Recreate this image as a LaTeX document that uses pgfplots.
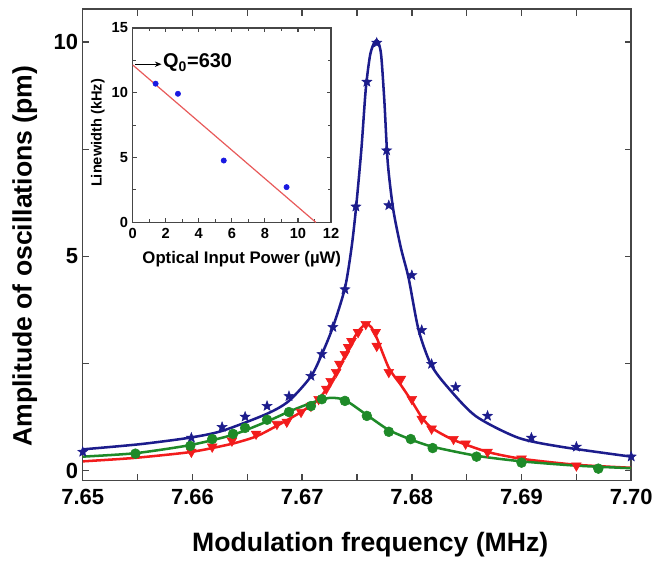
\documentclass[border=0pt]{standalone}
\usepackage{fontspec}
\setmainfont{Liberation Sans}
\usepackage{pgfplots}
\pgfplotsset{compat=1.18}
\usetikzlibrary{arrows.meta}
\definecolor{cblue}{RGB}{28,28,140}
\definecolor{cred}{RGB}{242,28,28}
\definecolor{cgreen}{RGB}{30,138,40}
\definecolor{caxis}{RGB}{70,70,70}
\definecolor{cfit}{RGB}{232,90,90}
\definecolor{cpt}{RGB}{25,25,225}
\pgfdeclareplotmark{fstar}{%
  \pgfpathmoveto{\pgfpointpolar{90}{1.3\pgfplotmarksize}}%
  \pgfpathlineto{\pgfpointpolar{126}{0.55\pgfplotmarksize}}%
  \pgfpathlineto{\pgfpointpolar{162}{1.3\pgfplotmarksize}}%
  \pgfpathlineto{\pgfpointpolar{198}{0.55\pgfplotmarksize}}%
  \pgfpathlineto{\pgfpointpolar{234}{1.3\pgfplotmarksize}}%
  \pgfpathlineto{\pgfpointpolar{270}{0.55\pgfplotmarksize}}%
  \pgfpathlineto{\pgfpointpolar{306}{1.3\pgfplotmarksize}}%
  \pgfpathlineto{\pgfpointpolar{342}{0.55\pgfplotmarksize}}%
  \pgfpathlineto{\pgfpointpolar{18}{1.3\pgfplotmarksize}}%
  \pgfpathlineto{\pgfpointpolar{54}{0.55\pgfplotmarksize}}%
  \pgfpathclose
  \pgfusepathqfillstroke}
\begin{document}
\begin{tikzpicture}
\path (-62.25pt,-58.5pt) rectangle (430.5pt,361.5pt);
\begin{axis}[
  name=main, at={(0,0)}, anchor=south west,
  scale only axis, width=412.5pt, height=354.75pt,
  xmin=7.65, xmax=7.70, ymin=-0.23, ymax=10.77,
  axis line style={caxis, line width=1.1pt},
  every tick/.style={caxis, line width=1pt},
  major tick length=5pt, minor tick length=5pt,
  xtick={7.65,7.66,7.67,7.68,7.69,7.70},
  xticklabels={7.65,7.66,7.67,7.68,7.69,7.70},
  minor xtick={7.655,7.665,7.675,7.685,7.695},
  ytick={0,5,10}, yticklabels={0,5,10},
  minor ytick={2.5,7.5},
  /pgf/number format/assume math mode=true,
  tick label style={font=\bfseries\fontsize{16.5}{16.5}\selectfont},
  xticklabel style={yshift=-3pt},
  xlabel={Modulation frequency (MHz)},
  ylabel={Amplitude of oscillations (pm)},
  label style={font=\bfseries\fontsize{20}{20}\selectfont},
  xlabel style={at={(axis description cs:0.524,-0.135)}, anchor=center},
  ylabel style={at={(axis description cs:-0.106,0.476)}, anchor=center},
]
% blue fit
\addplot[cblue, line width=1.9pt, smooth, tension=0.45, no marks] coordinates {
(7.6500,0.50) (7.6552,0.62) (7.6597,0.77) (7.6627,0.93) (7.6668,1.33)
(7.6688,1.63) (7.6708,2.20) (7.6718,2.72) (7.6728,3.35) (7.6739,4.26)
(7.6745,5.20) (7.6749,6.10) (7.6754,7.50) (7.6758,8.90) (7.6762,9.70)
(7.6766,10.00) (7.6769,10.02) (7.6772,9.70) (7.6775,8.60) (7.6778,7.20)
(7.6783,6.10) (7.6790,5.20) (7.6797,4.50) (7.6806,3.30) (7.6817,2.50)
(7.6831,2.00) (7.6858,1.28) (7.6897,0.77) (7.6936,0.56) (7.7000,0.33)};
% red fit
\addplot[cred, line width=1.9pt, smooth, tension=0.4, no marks] coordinates {
(7.6500,0.22) (7.6547,0.30) (7.6599,0.44) (7.6636,0.63) (7.6658,0.80)
(7.6677,1.05) (7.6699,1.37) (7.6715,1.67) (7.6726,2.05) (7.6734,2.40)
(7.6742,2.85) (7.6751,3.25) (7.6758,3.42) (7.6763,3.35) (7.6768,3.10)
(7.6779,2.40) (7.6790,2.00) (7.6800,1.62) (7.6809,1.25) (7.6818,1.00)
(7.6838,0.72) (7.6869,0.44) (7.6900,0.28) (7.6950,0.14) (7.7000,0.07)};
% green fit
\addplot[cgreen, line width=1.9pt, smooth, tension=0.4, no marks] coordinates {
(7.6500,0.33) (7.6548,0.41) (7.6598,0.60) (7.6637,0.84) (7.6668,1.15)
(7.6688,1.38) (7.6708,1.58) (7.6725,1.70) (7.6739,1.65) (7.6759,1.30)
(7.6779,0.95) (7.6799,0.73) (7.6819,0.56) (7.6859,0.35) (7.6900,0.22)
(7.6950,0.12) (7.7000,0.06)};
% blue stars
\addplot[only marks, mark=fstar, mark size=3pt, color=cblue] coordinates {
(7.6500,0.44) (7.6599,0.77) (7.6627,1.02) (7.6648,1.26) (7.6668,1.51)
(7.6688,1.74) (7.6708,2.21) (7.6718,2.72) (7.6728,3.35) (7.6739,4.23)
(7.6749,6.16) (7.6759,9.07) (7.6768,9.98) (7.6777,7.47) (7.6779,6.19)
(7.6800,4.56) (7.6809,3.28) (7.6818,2.49) (7.6840,1.95) (7.6869,1.28)
(7.6909,0.77) (7.6950,0.56) (7.7000,0.33)};
% red triangles
\addplot[only marks, mark=triangle*, mark size=4.2pt, color=cred, mark options={rotate=180}] coordinates {
(7.6599,0.44) (7.6618,0.56) (7.6636,0.70) (7.6658,0.86) (7.6677,1.09)
(7.6686,1.14) (7.6699,1.37) (7.6708,1.51) (7.6715,1.67) (7.6722,1.91)
(7.6726,2.09) (7.6731,2.30) (7.6734,2.49) (7.6739,2.72) (7.6742,2.88)
(7.6745,3.02) (7.6751,3.23) (7.6758,3.42) (7.6767,3.23) (7.6768,2.91)
(7.6779,2.30) (7.6790,2.14) (7.6800,1.67) (7.6809,1.21) (7.6818,0.98)
(7.6838,0.74) (7.6849,0.63) (7.6869,0.44) (7.6900,0.28) (7.6950,0.12)};
% green circles
\addplot[only marks, mark=*, mark size=3.7pt, color=cgreen] coordinates {
(7.6548,0.40) (7.6598,0.58) (7.6618,0.74) (7.6637,0.86) (7.6648,1.00)
(7.6668,1.19) (7.6688,1.37) (7.6708,1.51) (7.6718,1.67) (7.6739,1.63)
(7.6759,1.28) (7.6779,0.91) (7.6799,0.74) (7.6819,0.53) (7.6859,0.33)
(7.6900,0.19) (7.6970,0.05)};
\end{axis}
\begin{axis}[
  name=inset, at={(37.5pt,194.25pt)}, anchor=south west,
  scale only axis, width=149.25pt, height=146.25pt,
  axis background/.style={fill=white},
  xmin=0, xmax=12, ymin=0, ymax=15,
  axis line style={caxis, line width=0.9pt},
  every tick/.style={caxis, line width=0.8pt},
  major tick length=3pt, minor tick length=2.5pt,
  xtick={0,2,4,6,8,10,12}, xticklabels={0,2,4,6,8,10,12},
  minor xtick={1,3,5,7,9,11},
  ytick={0,5,10,15}, yticklabels={0,5,10,15},
  minor ytick={2.5,7.5,12.5},
  /pgf/number format/assume math mode=true,
  tick label style={font=\bfseries\fontsize{11}{11}\selectfont},
  xticklabel style={yshift=-1pt},
  xlabel={Optical Input Power (µW)},
  ylabel={Linewidth (kHz)},
  xlabel style={font=\bfseries\fontsize{12.6}{12.6}\selectfont, at={(axis description cs:0.55,-0.19)}, anchor=center},
  ylabel style={font=\bfseries\fontsize{11}{11}\selectfont, at={(axis description cs:-0.175,0.46)}, anchor=center},
]
\addplot[cfit, line width=0.9pt, no marks] coordinates {(0,12.15) (11.08,0)};
\addplot[only marks, mark=*, mark size=2pt, color=cpt] coordinates {
(1.39,10.7) (2.74,9.92) (5.51,4.77) (9.31,2.72)};
\draw[-{Stealth[length=5pt,width=4pt]}, black, line width=1pt] (axis cs:0.15,12.2) -- (axis cs:1.75,12.2);
\node[anchor=west, inner sep=1pt, font=\bfseries\fontsize{15}{15}\selectfont] at (axis cs:1.75,12.3) {Q\textsubscript{0}=630};
\end{axis}
\end{tikzpicture}
\end{document}
